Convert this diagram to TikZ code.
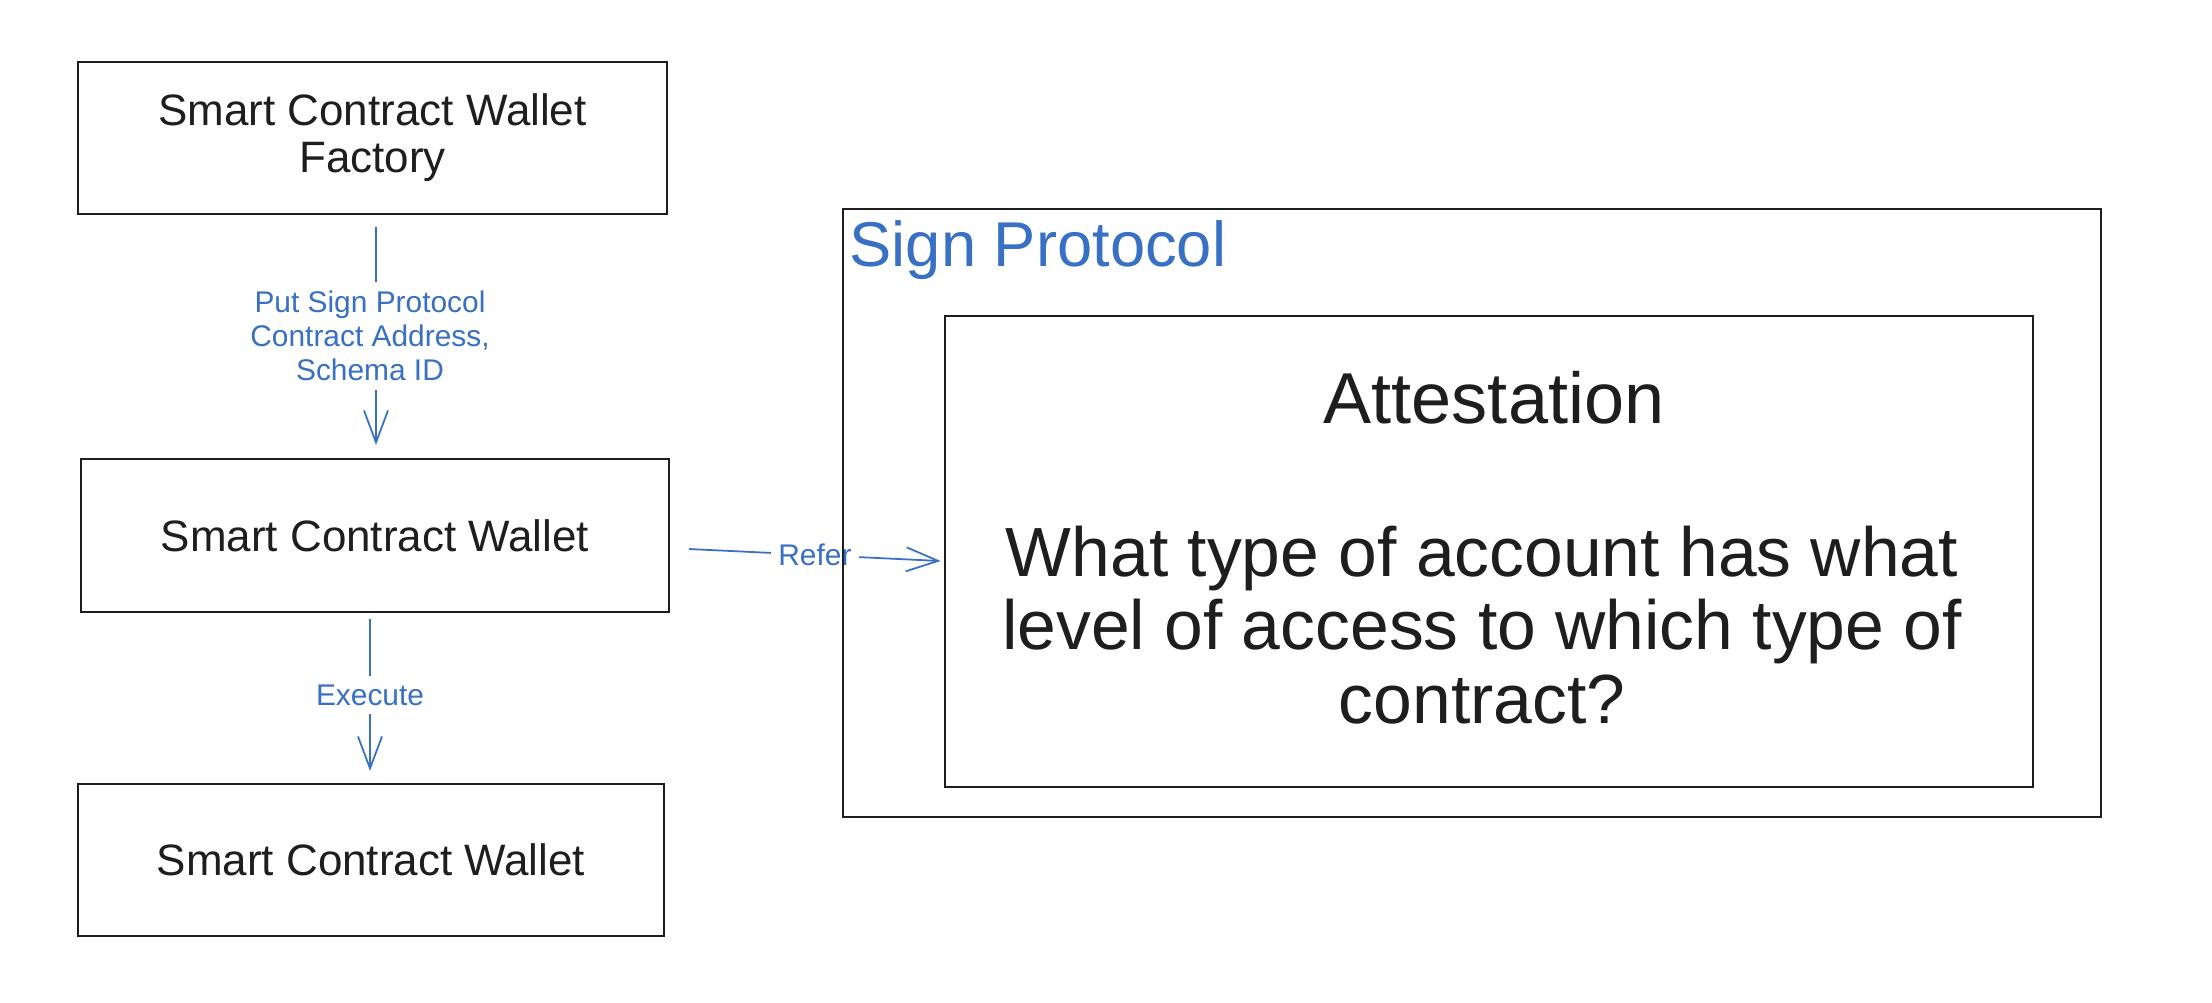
\documentclass[tikz,border=0pt]{standalone}
\usepackage{fontspec}
\setmainfont{Liberation Sans}
\usetikzlibrary{arrows.meta}
\definecolor{inkblack}{RGB}{30,30,30}
\definecolor{inkblue}{RGB}{56,112,196}
\begin{document}
\begin{tikzpicture}[x=0.01cm,y=-0.01cm,
  boxnode/.style={draw=inkblack, line width=0.55pt, inner sep=0pt, outer sep=0pt, text=inkblack},
  boxtext/.style={font=\fontsize{12.5}{13.4}\selectfont, align=center},
  flowarrow/.style={draw=inkblue, line width=0.5pt, -{Straight Barb[length=0.32cm,width=0.24cm]}},
  arrowlabel/.style={fill=white, text=inkblue, font=\fontsize{8.5}{9.7}\selectfont, align=center, inner xsep=2pt, inner ysep=2.5pt}
]
\useasboundingbox (0,0) rectangle (2212,1002);
\fill[white] (0,0) rectangle (2212,1002);

% left column boxes
\node[boxnode, boxtext, minimum width=5.89cm, minimum height=1.52cm] (b1) at (372.5,138) {Smart Contract Wallet\\Factory};
\node[boxnode, boxtext, minimum width=5.88cm, minimum height=1.53cm] (b2) at (375,535.5) {Smart Contract Wallet};
\node[boxnode, boxtext, minimum width=5.86cm, minimum height=1.52cm] (b3) at (371,860) {Smart Contract Wallet};

% Sign Protocol containers
\node[boxnode, minimum width=12.58cm, minimum height=6.08cm] (outer) at (1472,513) {};
\node[boxnode, minimum width=10.88cm, minimum height=4.71cm] (inner) at (1489,551.5) {};

% connectors
\draw[flowarrow] ([xshift=0.035cm,yshift=-0.13cm]b1.south) -- node[arrowlabel, xshift=-0.06cm] {Put Sign Protocol\\Contract Address,\\Schema ID} ([xshift=0.01cm,yshift=0.14cm]b2.north);
\draw[flowarrow] ([xshift=-0.05cm,yshift=-0.07cm]b2.south) -- node[arrowlabel] {Execute} ([xshift=-0.01cm,yshift=0.13cm]b3.north);
\draw[flowarrow] ([xshift=0.2cm,yshift=-0.135cm]b2.east) -- node[arrowlabel] {Refer} ([xshift=-0.04cm,yshift=-0.095cm]inner.west);
% outer border visible through the label
\draw[inkblack, line width=0.55pt] (outer.north west) -- (outer.south west);

% texts of the container
\node[anchor=base west, text=inkblue, font=\fontsize{18}{20}\selectfont, inner sep=0pt] (sptitle) at (849,266) {Sign Protocol};
\node[anchor=base, text=inkblack, font=\fontsize{20.5}{21.3}\selectfont, inner sep=0pt] (atttitle) at (1494,423) {Attestation};
\node[anchor=center, text=inkblack, font=\fontsize{19.8}{20.8}\selectfont, align=center, inner sep=0pt] (question) at (1482,625) {What type of account has what\\level of access to which type of\\contract?};
\end{tikzpicture}
\end{document}
